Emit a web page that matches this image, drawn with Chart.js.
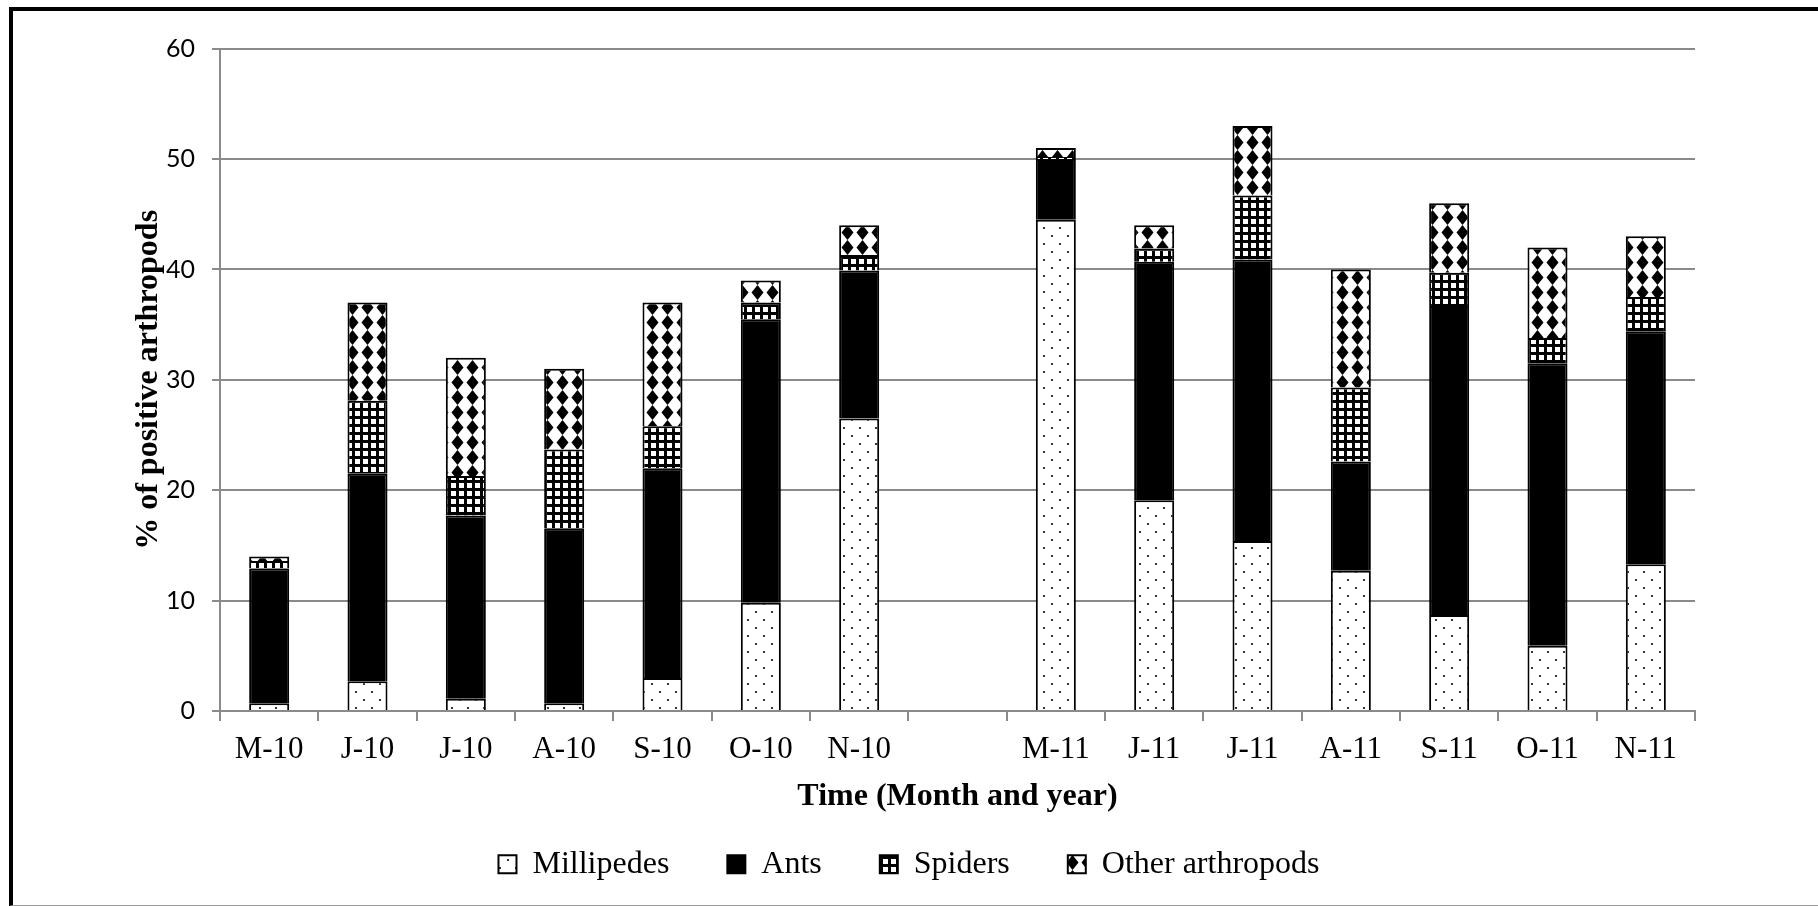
<!DOCTYPE html>
<html>
<head>
<meta charset="utf-8">
<script src="https://cdn.jsdelivr.net/npm/chart.js@4.4.1/dist/chart.umd.min.js"></script>
<style>
  html, body { margin: 0; padding: 0; background: #fff; overflow: hidden; }
  #wrap { position: relative; width: 1818px; height: 906px; }
  #frame {
    position: absolute; left: 9px; top: 7px; width: 1830px; height: 894px;
    border-left: 4px solid #000; border-top: 4px solid #000; border-bottom: 1px solid #999;
    pointer-events: none;
  }
</style>
</head>
<body>
<div id="wrap">
  <canvas id="chart" width="1818" height="906"></canvas>
  <div id="frame"></div>
</div>
<script>
// months, with an empty slot between the two years
const categories = ['M-10', 'J-10', 'J-10', 'A-10', 'S-10', 'O-10', 'N-10', '',
                    'M-11', 'J-11', 'J-11', 'A-11', 'S-11', 'O-11', 'N-11'];

const millipedes = [0.7, 2.7, 1.1, 0.7, 3.0, 9.8, 26.5, null, 44.5, 19.1, 15.4, 12.7, 8.7, 5.9, 13.3];
const ants       = [12.2, 18.8, 16.6, 15.8, 19.0, 25.7, 13.4, null, 5.5, 21.6, 25.5, 9.9, 28.0, 25.6, 21.1];
const spiders    = [0.7, 6.6, 3.6, 7.2, 3.8, 1.5, 1.4, null, 0.2, 1.2, 5.8, 6.7, 3.0, 2.3, 3.1];
const others     = [0.4, 8.9, 10.7, 7.3, 11.2, 2.0, 2.7, null, 0.8, 2.1, 6.3, 10.7, 6.3, 8.2, 5.5];

const yTicks = [0, 10, 20, 30, 40, 50, 60];

const GRID = '#8a8a8a';

// small canvas tiles used as fill patterns (like the Excel hatch fills)
function makePattern(w, h, draw) {
  const c = document.createElement('canvas');
  c.width = w;
  c.height = h;
  const g = c.getContext('2d');
  g.fillStyle = '#fff';
  g.fillRect(0, 0, w, h);
  g.fillStyle = '#000';
  draw(g);
  return g.createPattern(c, 'repeat');
}

const dotFill = makePattern(16, 16, g => {
  g.fillStyle = '#333';
  g.fillRect(3, 3, 2, 2);
  g.fillRect(11, 11, 2, 2);
});

const gridFill = makePattern(8, 8, g => {
  g.fillRect(0, 0, 8, 3);
  g.fillRect(0, 0, 3, 8);
});

const diamondFill = makePattern(15, 15, g => {
  g.beginPath();
  g.moveTo(7.5, 0);
  g.lineTo(13.5, 7.5);
  g.lineTo(7.5, 15);
  g.lineTo(1.5, 7.5);
  g.closePath();
  g.fill();
});

Chart.defaults.color = '#000';

const barStyle = { borderColor: '#000', borderWidth: 2, barPercentage: 0.407, categoryPercentage: 1.0 };

const ctx = document.getElementById('chart');

new Chart(ctx, {
  type: 'bar',
  data: {
    labels: categories,
    datasets: [
      { label: 'Millipedes', data: millipedes, backgroundColor: dotFill, ...barStyle },
      { label: 'Ants', data: ants, backgroundColor: '#000', ...barStyle },
      { label: 'Spiders', data: spiders, backgroundColor: gridFill, ...barStyle },
      { label: 'Other arthropods', data: others, backgroundColor: diamondFill, ...barStyle }
    ]
  },
  options: {
    responsive: false,
    devicePixelRatio: 1,
    animation: false,
    layout: { padding: { top: 48.7, left: 0, right: 0, bottom: 15.7 } },
    plugins: {
      tooltip: { enabled: false },
      legend: {
        position: 'bottom',
        labels: {
          font: { family: 'Liberation Serif', size: 32 },
          boxWidth: 18,
          boxHeight: 18,
          padding: 58
        }
      }
    },
    scales: {
      x: {
        stacked: true,
        afterFit: (scale) => { scale.height = 79.3; },
        grid: { drawOnChartArea: false, color: GRID, lineWidth: 2, tickLength: 10 },
        border: { color: GRID, width: 2 },
        ticks: {
          autoSkip: false,
          maxRotation: 0,
          padding: 10.4,
          font: { family: 'Liberation Serif', size: 31 }
        },
        title: {
          display: true,
          text: 'Time (Month and year)',
          font: { family: 'Liberation Serif', size: 32, weight: 'bold' },
          padding: { top: 0, bottom: -25.2 }
        }
      },
      y: {
        stacked: true,
        min: 0,
        max: 60,
        afterFit: (scale) => { scale.width = 220; },
        afterBuildTicks: (scale) => { scale.ticks = yTicks.map(v => ({ value: v })); },
        grid: { color: GRID, lineWidth: 2, tickLength: 8 },
        border: { color: GRID, width: 2 },
        ticks: {
          padding: 17,
          font: { family: 'Lato', size: 25 }
        },
        title: {
          display: true,
          text: '% of positive arthropods',
          font: { family: 'Liberation Serif', size: 32, weight: 'bold' },
          padding: { top: 129.5, bottom: 0 }
        }
      },
      // empty right-hand strip so the plot stops where the original does
      side: {
        position: 'right',
        afterFit: (scale) => { scale.width = 123; },
        grid: { display: false },
        border: { display: false },
        ticks: { display: false }
      }
    }
  }
});
</script>
</body>
</html>
